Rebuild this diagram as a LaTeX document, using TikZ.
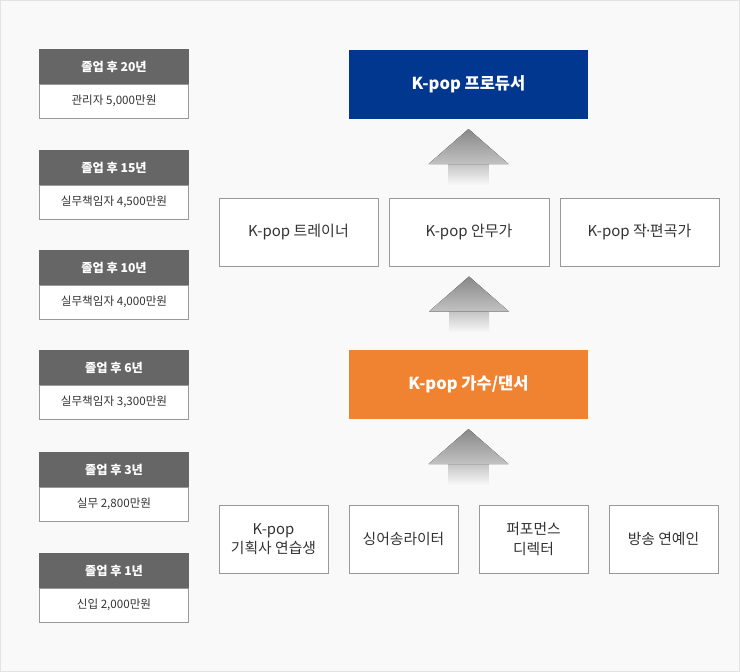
\documentclass[tikz,border=0pt]{standalone}
\usepackage{fontspec}
\setmainfont{Noto Sans CJK KR}
\usetikzlibrary{calc}
\definecolor{bg}{HTML}{F9F9F9}
\definecolor{edge}{HTML}{E3E3E3}
\definecolor{boxline}{HTML}{999999}
\definecolor{hdr}{HTML}{666666}
\definecolor{txt}{HTML}{333333}
\definecolor{navy}{HTML}{023790}
\definecolor{orng}{HTML}{F08332}
\definecolor{arrtop}{HTML}{888888}
\definecolor{arrbot}{HTML}{C2C2C2}
\begin{document}
\begin{tikzpicture}[x=1pt,y=-1pt,
  hdrbox/.style={fill=hdr, text=white, minimum width=150pt, minimum height=35pt, inner sep=0pt, outer sep=0pt, font=\fontsize{12.2}{14}\selectfont\bfseries},
  paybox/.style={draw=boxline, line width=0.8pt, fill=white, text=txt, minimum width=149pt, minimum height=34pt, inner sep=0pt, outer sep=0pt, font=\fontsize{11.6}{13}\selectfont},
  jobbox/.style={draw=boxline, line width=0.8pt, fill=white, text=txt, inner sep=0pt, outer sep=0pt, align=center, minimum height=68pt},
  bigbox/.style={minimum width=239pt, minimum height=69pt, inner sep=0pt, outer sep=0pt, text=white, font=\fontsize{16.5}{18}\selectfont\bfseries},
  shaft/.style={top color=arrbot, bottom color=bg, draw=none},
  head/.style={top color=arrtop, bottom color=arrbot, draw=none}]
\useasboundingbox (0,0) rectangle (740,672);
\fill[bg] (0,0) rectangle (740,672);
\draw[edge, line width=1pt] (0.5,0.5) rectangle (739.5,671.5);

% left column
\node[hdrbox] (h1) at (114,66.5) {졸업 후 20년};
\node[paybox] (p1) at (114,101) {관리자 5,000만원};
\node[hdrbox] (h2) at (114,167.5) {졸업 후 15년};
\node[paybox] (p2) at (114,202) {실무책임자 4,500만원};
\node[hdrbox] (h3) at (114,267.5) {졸업 후 10년};
\node[paybox] (p3) at (114,302) {실무책임자 4,000만원};
\node[hdrbox] (h4) at (114,367.5) {졸업 후 6년};
\node[paybox] (p4) at (114,402) {실무책임자 3,300만원};
\node[hdrbox] (h5) at (114,469.5) {졸업 후 3년};
\node[paybox] (p5) at (114,504) {실무 2,800만원};
\node[hdrbox] (h6) at (114,570.5) {졸업 후 1년};
\node[paybox] (p6) at (114,605) {신입 2,000만원};

% right column
\node[bigbox, fill=navy] (prod) at (468.5,84.5) {K-pop 프로듀서};
\node[jobbox, minimum width=159pt, font=\fontsize{15}{17}\selectfont] (m1) at (298.5,232.5) {K-pop 트레이너};
\node[jobbox, minimum width=160pt, font=\fontsize{15}{17}\selectfont] (m2) at (469,232.5) {K-pop 안무가};
\node[jobbox, minimum width=159pt, font=\fontsize{15}{17}\selectfont] (m3) at (639.5,232.5) {K-pop 작\kern-0.18em·\kern-0.18em편곡가};
\node[bigbox, fill=orng] (sing) at (468.5,384.5) {K-pop 가수/댄서};
\node[jobbox, minimum width=109pt, font=\fontsize{14.8}{19.5}\selectfont] (b1) at (273.5,539) {K-pop\\기획사 연습생};
\node[jobbox, minimum width=109pt, font=\fontsize{14.8}{19.5}\selectfont] (b2) at (403.5,539) {싱어송라이터};
\node[jobbox, minimum width=109pt, font=\fontsize{14.8}{19.5}\selectfont] (b3) at (533.5,539) {퍼포먼스\\디렉터};
\node[jobbox, minimum width=109pt, font=\fontsize{14.8}{19.5}\selectfont] (b4) at (663.5,539) {방송 연예인};

% block arrows
\foreach \src in {prod, m2, sing}{
  \coordinate (t) at ($(\src.south)+(0,10)$);
  \fill[shaft] ($(t)+(-20,34)$) rectangle ($(t)+(20,56)$);
  \fill[head] (t) -- ($(t)+(40,35)$) -- ($(t)+(-40,35)$) -- cycle;
}
\end{tikzpicture}
\end{document}
